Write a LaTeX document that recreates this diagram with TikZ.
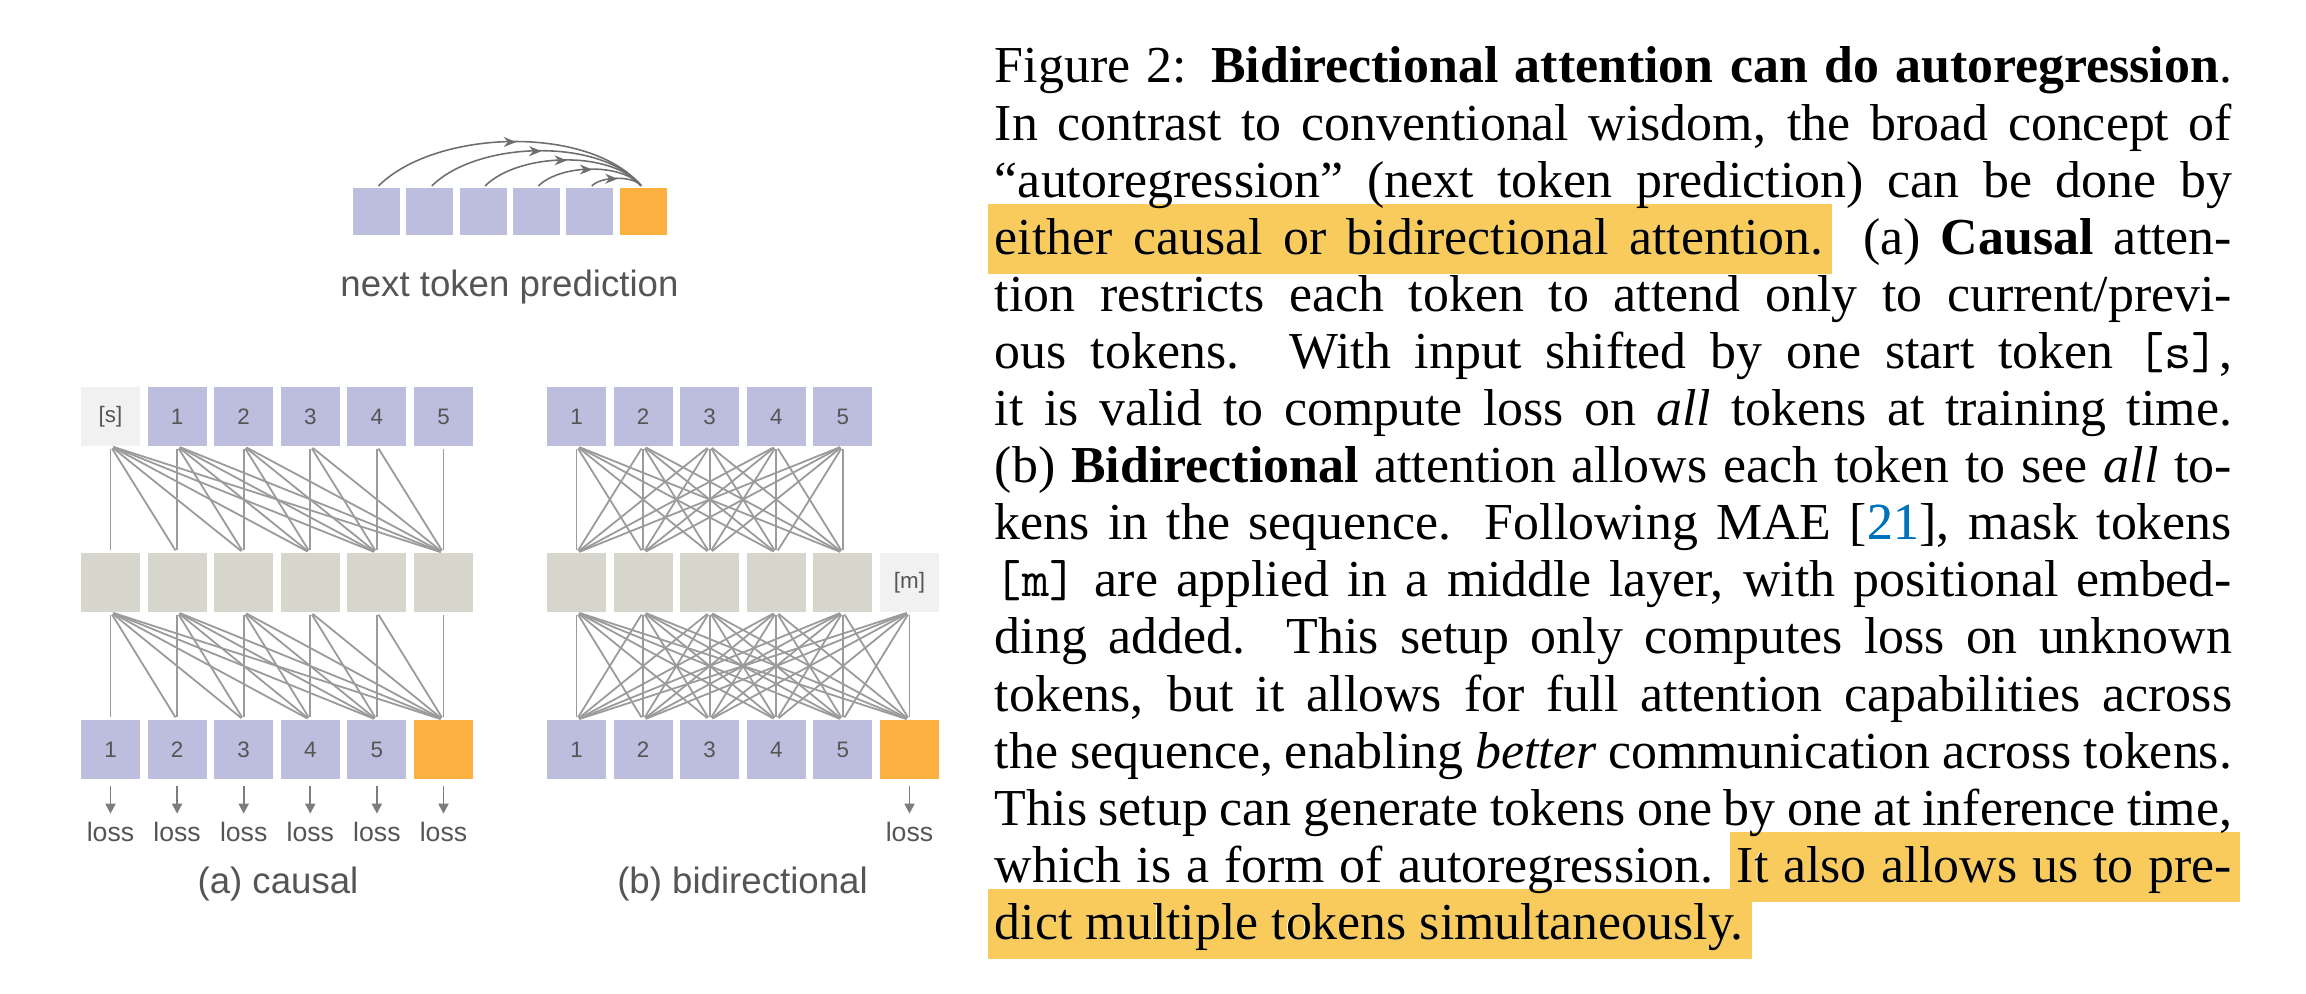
\documentclass[tikz,border=0pt]{standalone}
\usepackage{fontspec}
\setmainfont{Liberation Serif}
\newfontfamily\diagfont{Liberation Sans}
\usetikzlibrary{arrows.meta,decorations.markings}

\definecolor{tokpurple}{RGB}{189,189,222}
\definecolor{tokorange}{RGB}{252,176,64}
\definecolor{midgray}{RGB}{214,214,204}
\definecolor{specgray}{RGB}{240,241,240}
\definecolor{linegray}{RGB}{155,155,155}
\definecolor{arrgray}{RGB}{125,125,125}
\definecolor{arcgray}{RGB}{110,110,110}
\definecolor{txtgray}{RGB}{85,85,85}
\definecolor{hlyellow}{RGB}{249,203,92}
\definecolor{citeblue}{RGB}{0,114,189}

\newcommand\tokfont{\diagfont\fontsize{4.7pt}{5.6pt}\selectfont}
\newcommand\losfont{\diagfont\fontsize{5.6pt}{6.7pt}\selectfont}
\newcommand\lblfont{\diagfont\fontsize{7.7pt}{9.2pt}\selectfont}

\newif\ifhlpass
\newdimen\hlht \hlht=10.5pt
\newdimen\hldp \hldp=4.2pt
\newcommand\hlrule[1]{{\color{hlyellow}\vrule height\hlht depth\hldp width#1}}
\newcommand\hlL{\ifhlpass\llap{\hlrule{1.5pt}}\fi}
\newcommand\hlR{\ifhlpass\edef\hlsf{\the\spacefactor}\rlap{\hlrule{1.7pt}}\spacefactor\hlsf\relax\fi}
\newcommand\hlw[1]{\ifhlpass\sbox0{#1}\rlap{\hlrule{\wd0}}\fi#1}
\newcommand\hlsp{\ifhlpass{\color{hlyellow}\leaders\vrule height\hlht depth\hldp\hskip\fontdimen2\font plus\fontdimen3\font minus\fontdimen4\font\relax}\else\hskip\fontdimen2\font plus\fontdimen3\font minus\fontdimen4\font\relax\fi}

\newcommand\captionlines{%
\parbox[t]{260pt}{\fontsize{10.9pt}{12pt}\selectfont\nonfrenchspacing
\baselineskip=12pt\relax\lineskiplimit=-\maxdimen\relax
\hbox to\hsize{Figure 2: \textbf{Bidirectional attention can do autoregression}.}
\hbox to\hsize{In contrast to conventional wisdom, the broad concept of}
\hbox to\hsize{“autoregression” (next token prediction) can be done by}
\hbox to\hsize{\hlL\hlw{either}\hlsp\hlw{causal}\hlsp\hlw{or}\hlsp\hlw{bidirectional}\hlsp\hlw{attention.}\hlR{} (a) \textbf{Causal} atten-}
\hbox to\hsize{tion restricts each token to attend only to current/previ-}
\hbox to\hsize{ous tokens. With input shifted by one start token \texttt{[s]},}
\hbox to\hsize{it is valid to compute loss on \textit{all} tokens at training time.}
\hbox to\hsize{(b) \textbf{Bidirectional} attention allows each token to see \textit{all} to-}
\hbox to\hsize{kens in the sequence. Following MAE [\textcolor{citeblue}{21}], mask tokens}
\hbox to\hsize{\texttt{[m]} are applied in a middle layer, with positional embed-}
\hbox to\hsize{ding added. This setup only computes loss on unknown}
\hbox to\hsize{tokens, but it allows for full attention capabilities across}
\hbox to\hsize{the sequence, enabling \textit{better} communication across tokens.}
\hbox to\hsize{This setup can generate tokens one by one at inference time,}
\hbox to\hsize{which is a form of autoregression. \hlL\hlw{It}\hlsp\hlw{also}\hlsp\hlw{allows}\hlsp\hlw{us}\hlsp\hlw{to}\hlsp\hlw{pre-}\hlR}
\hbox{\hlL\hlw{dict}\hlsp\hlw{multiple}\hlsp\hlw{tokens}\hlsp\hlw{simultaneously.}\hlR}
}}

\tikzset{
 box/.style={minimum size=12.4pt, inner sep=0pt, outer sep=0pt, font=\tokfont, text=txtgray},
 tok/.style={box, fill=tokpurple},
 orng/.style={box, fill=tokorange},
 mid/.style={box, fill=midgray},
 spec/.style={box, fill=specgray},
 ntok/.style={minimum size=9.88pt, inner sep=0pt, outer sep=0pt, fill=tokpurple},
 ntoko/.style={ntok, fill=tokorange},
 att/.style={draw=linegray, line width=0.38pt, shorten <=0.63pt, shorten >=0.63pt},
 lossarr/.style={draw=arrgray, line width=0.4pt, -{Triangle[length=2.1pt,width=2.1pt]}, shorten <=1.5pt, shorten >=1.7pt},
 losslbl/.style={font=\losfont, text=txtgray, inner sep=0pt, anchor=base},
 lbl/.style={font=\lblfont, text=txtgray, inner sep=0pt, anchor=base},
 arcarrow/.style={draw=arcgray, line width=0.33pt, shorten <=0.6pt, shorten >=0.6pt,
   decoration={markings, mark=at position 0.52 with {\arrow{Stealth[length=2.6pt,width=2.1pt]}}},
   postaction={decorate}}
}

\begin{document}
\begin{tikzpicture}[x=0.21017pt,y=-0.21017pt]
\useasboundingbox (0,0) rectangle (2306,994);

% ---------- next token prediction ----------
\foreach \ia in {0,...,4} \node[ntok] (n\ia) at ({376.5+53.3*\ia},211.5) {};
\node[ntoko] (n5) at ({376.5+53.3*5},211.5) {};
\foreach \ia in {0,...,4} \draw[arcarrow] (n\ia.north) to[out=45,in=130,looseness=0.8] (n5.north);
\node[lbl] (ntp) at (509.5,297) {next token prediction};

% ---------- (a) causal ----------
\node[spec] (ct0) at (110.5,416.5) {[s]};
\foreach \ia in {1,...,5} \node[tok] (ct\ia) at ({110.5+66.6*\ia},416.5) {\ia};
\foreach \ia in {0,...,5} \node[mid] (cm\ia) at ({110.5+66.6*\ia},582.5) {};
\foreach \ia/\lab in {0/1,1/2,2/3,3/4,4/5} \node[tok] (cb\ia) at ({110.5+66.6*\ia},749.5) {\lab};
\node[orng] (cb5) at ({110.5+66.6*5},749.5) {};
\foreach \ia in {0,...,5} \foreach \jb in {\ia,...,5} {
  \draw[att] (ct\ia.south) -- (cm\jb.north);
  \draw[att] (cm\ia.south) -- (cb\jb.north);
}
\foreach \ia in {0,...,5} {
  \node[losslbl] (cl\ia) at ({110.5+66.6*\ia},842) {loss};
  \draw[lossarr] (cb\ia.south) -- (cl\ia.north);
}
\node[lbl] (capa) at (278,894) {(a) causal};

% ---------- (b) bidirectional ----------
\foreach \ia/\lab in {0/1,1/2,2/3,3/4,4/5} \node[tok] (bt\ia) at ({576.5+66.6*\ia},416.5) {\lab};
\foreach \ia in {0,...,4} \node[mid] (bm\ia) at ({576.5+66.6*\ia},582.5) {};
\node[spec] (bm5) at ({576.5+66.6*5},582.5) {[m]};
\foreach \ia/\lab in {0/1,1/2,2/3,3/4,4/5} \node[tok] (bb\ia) at ({576.5+66.6*\ia},749.5) {\lab};
\node[orng] (bb5) at ({576.5+66.6*5},749.5) {};
\foreach \ia in {0,...,4} \foreach \jb in {0,...,4} \draw[att] (bt\ia.south) -- (bm\jb.north);
\foreach \ia in {0,...,5} \foreach \jb in {0,...,5} \draw[att] (bm\ia.south) -- (bb\jb.north);
\node[losslbl] (bl5) at ({576.5+66.6*5},842) {loss};
\draw[lossarr] (bb5.south) -- (bl5.north);
\node[lbl] (capb) at (742.5,894) {(b) bidirectional};

% ---------- caption ----------
\node[anchor=base west, inner sep=0pt, text=white] (caphl) at (994,83) {\hlpasstrue\captionlines};
\node[anchor=base west, inner sep=0pt, text=black] (caption) at (994,83) {\hlpassfalse\captionlines};
\end{tikzpicture}
\end{document}
